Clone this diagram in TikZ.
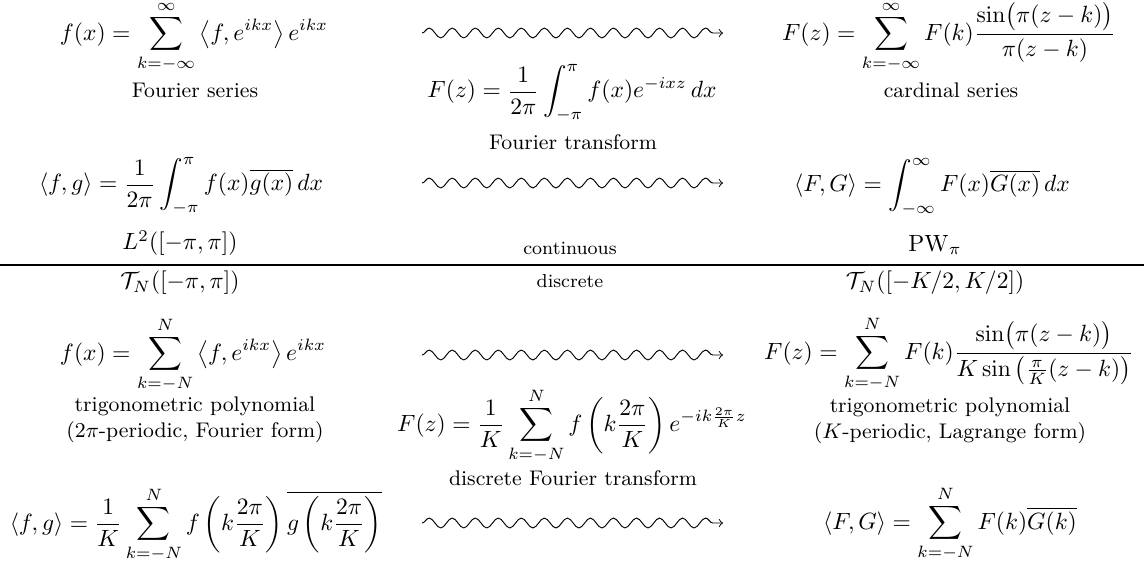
\documentclass[tikz,border=0pt]{standalone}
\usepackage{amsmath,amssymb}
\usetikzlibrary{decorations.pathmorphing}
\begin{document}
\begin{tikzpicture}[x=0.4255pt,y=-0.4255pt,
  eq/.style={inner sep=0pt,anchor=center},
  lab/.style={inner sep=0pt,anchor=center,font=\small,align=center},
  sublab/.style={inner sep=0pt,anchor=center,font=\footnotesize},
  squig/.style={->,decorate,decoration={snake,amplitude=2.1pt,segment length=9.8pt,post length=2.5pt}},
  rule/.style={line width=0.5pt}]
\useasboundingbox (0,0) rectangle (1144,563);
% row 1
\node[eq] (fs) at (194,37) {$\displaystyle f(x) = \sum_{k=-\infty}^{\infty} \left\langle f, e^{ikx} \right\rangle e^{ikx}$};
\node[lab] (fsl) at (195,90) {Fourier series};
\node[eq] (cs) at (949,37) {$\displaystyle F(z) = \sum_{k=-\infty}^{\infty} F(k)\frac{\sin\bigl(\pi(z-k)\bigr)}{\pi(z-k)}$};
\node[lab] (csl) at (951,90) {cardinal series};
\coordinate (a1s) at (422,33);
\coordinate (a1e) at (723,33);
\draw[squig] (a1s) -- (a1e);
\node[eq] (ft) at (572,93) {$\displaystyle F(z) = \frac{1}{2\pi}\int_{-\pi}^{\pi} f(x) e^{-ixz}\,dx$};
\node[lab] (ftl) at (573,142) {Fourier transform};
% row 2
\node[eq] (ip1) at (181,186) {$\displaystyle \langle f,g\rangle = \frac{1}{2\pi}\int_{-\pi}^{\pi} f(x)\overline{g(x)}\,dx$};
\node[eq] (ip2) at (932,187) {$\displaystyle \langle F,G\rangle = \int_{-\infty}^{\infty} F(x)\overline{G(x)}\,dx$};
\coordinate (a2s) at (422,183);
\coordinate (a2e) at (723,183);
\draw[squig] (a2s) -- (a2e);
% spaces
\node[eq] (l2) at (180,243) {$L^2([-\pi,\pi])$};
\node[sublab] (cont) at (570,248) {continuous};
\node[eq] (pw) at (935,245) {$\mathrm{PW}_\pi$};
\coordinate (r1) at (0,265);
\coordinate (r2) at (1144,265);
\draw[rule] (r1) -- (r2);
\node[eq] (tn1) at (180,283) {$\mathcal{T}_N([-\pi,\pi])$};
\node[sublab] (disc) at (570,281) {discrete};
\node[eq] (tn2) at (935,283) {$\mathcal{T}_N([-K/2,K/2])$};
% row 3
\node[eq] (tp1) at (193,355) {$\displaystyle f(x) = \sum_{k=-N}^{N} \left\langle f, e^{ikx} \right\rangle e^{ikx}$};
\node[lab] (tp1l) at (195,420) {trigonometric polynomial\\(\(2\pi\)-periodic, Fourier form)};
\node[eq] (tp2) at (949,354) {$\displaystyle F(z) = \sum_{k=-N}^{N} F(k)\frac{\sin\bigl(\pi(z-k)\bigr)}{K\sin\left(\frac{\pi}{K}(z-k)\right)}$};
\node[lab] (tp2l) at (950,421) {trigonometric polynomial\\(\(K\)-periodic, Lagrange form)};
\coordinate (a3s) at (422,355);
\coordinate (a3e) at (723,355);
\draw[squig] (a3s) -- (a3e);
\node[eq] (dft) at (572,426) {$\displaystyle F(z) = \frac{1}{K}\sum_{k=-N}^{N} f\left(k\frac{2\pi}{K}\right) e^{-ik\frac{2\pi}{K}z}$};
\node[lab] (dftl) at (573,478) {discrete Fourier transform};
% row 4
\node[eq] (ip3) at (196,525) {$\displaystyle \langle f,g\rangle = \frac{1}{K}\sum_{k=-N}^{N} f\left(k\frac{2\pi}{K}\right)\overline{g\left(k\frac{2\pi}{K}\right)}$};
\node[eq] (ip4) at (950,524) {$\displaystyle \langle F,G\rangle = \sum_{k=-N}^{N} F(k)\overline{G(k)}$};
\coordinate (a4s) at (422,523);
\coordinate (a4e) at (723,523);
\draw[squig] (a4s) -- (a4e);
\end{tikzpicture}
\end{document}
